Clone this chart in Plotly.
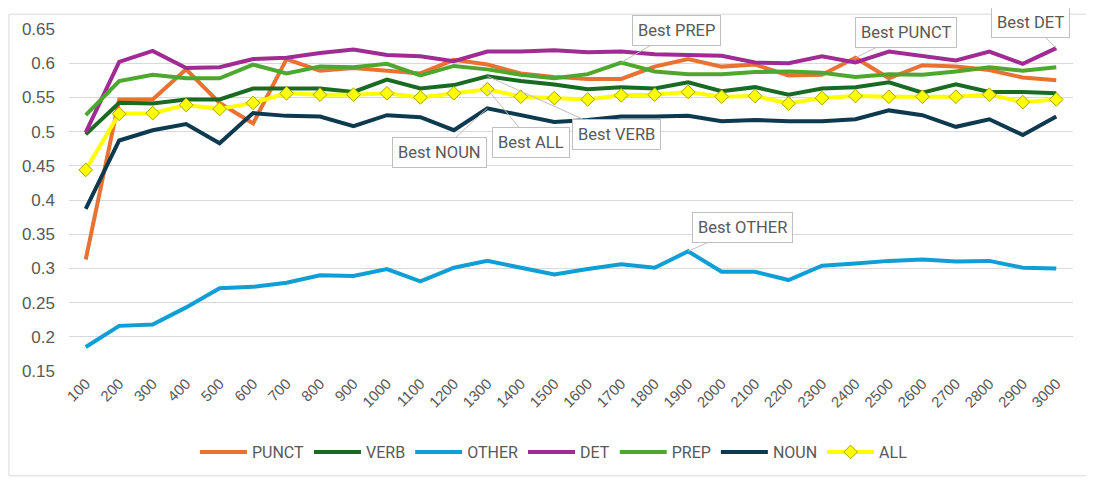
import plotly.graph_objects as go

CATS = ["100", "200", "300", "400", "500", "600", "700", "800", "900", "1000",
        "1100", "1200", "1300", "1400", "1500", "1600", "1700", "1800", "1900", "2000",
        "2100", "2200", "2300", "2400", "2500", "2600", "2700", "2800", "2900", "3000"]

PUNCT = [0.313, 0.547, 0.547, 0.591, 0.542, 0.512, 0.606, 0.589, 0.593, 0.589,
         0.585, 0.605, 0.598, 0.585, 0.580, 0.577, 0.577, 0.595, 0.606, 0.595,
         0.598, 0.582, 0.583, 0.608, 0.578, 0.597, 0.595, 0.590, 0.579, 0.575]
VERB = [0.496, 0.542, 0.541, 0.547, 0.547, 0.563, 0.563, 0.563, 0.558, 0.576,
        0.563, 0.568, 0.581, 0.574, 0.569, 0.562, 0.565, 0.563, 0.572, 0.559,
        0.565, 0.554, 0.563, 0.565, 0.572, 0.557, 0.569, 0.558, 0.558, 0.556]
OTHER = [0.185, 0.216, 0.218, 0.243, 0.271, 0.273, 0.279, 0.290, 0.289, 0.299,
         0.281, 0.301, 0.311, 0.301, 0.291, 0.299, 0.306, 0.301, 0.325, 0.295,
         0.295, 0.283, 0.304, 0.307, 0.311, 0.313, 0.310, 0.311, 0.301, 0.300]
DET = [0.499, 0.602, 0.618, 0.593, 0.594, 0.606, 0.608, 0.615, 0.620, 0.612,
       0.610, 0.603, 0.617, 0.617, 0.619, 0.616, 0.617, 0.613, 0.612, 0.611,
       0.601, 0.600, 0.610, 0.601, 0.617, 0.611, 0.604, 0.617, 0.599, 0.622]
PREP = [0.524, 0.574, 0.583, 0.578, 0.578, 0.598, 0.585, 0.595, 0.594, 0.599,
        0.582, 0.596, 0.591, 0.583, 0.578, 0.584, 0.601, 0.588, 0.584, 0.584,
        0.587, 0.588, 0.586, 0.580, 0.584, 0.583, 0.588, 0.594, 0.589, 0.594]
NOUN = [0.387, 0.487, 0.502, 0.511, 0.483, 0.527, 0.523, 0.522, 0.508, 0.524,
        0.521, 0.502, 0.534, 0.524, 0.514, 0.517, 0.522, 0.522, 0.523, 0.515,
        0.517, 0.515, 0.515, 0.518, 0.531, 0.524, 0.507, 0.518, 0.495, 0.522]
ALL = [0.444, 0.526, 0.527, 0.539, 0.533, 0.542, 0.556, 0.554, 0.554, 0.556,
       0.550, 0.556, 0.562, 0.551, 0.549, 0.547, 0.553, 0.554, 0.558, 0.551,
       0.552, 0.541, 0.549, 0.552, 0.551, 0.551, 0.551, 0.554, 0.543, 0.547]

SERIES = [("PUNCT", PUNCT, "#E97132"), ("VERB", VERB, "#196B24"),
          ("OTHER", OTHER, "#0F9ED5"), ("DET", DET, "#A02B93"),
          ("PREP", PREP, "#4EA72E"), ("NOUN", NOUN, "#0E3A4F"),
          ("ALL", ALL, "#FFFF00")]

# callout label offsets (pixels) from the best point
CALLOUT_OFFSETS = {"PREP": (55, -32), "PUNCT": (51, -25), "DET": (-26, -26),
                   "NOUN": (-48, 44), "ALL": (44, 53), "VERB": (129, 58),
                   "OTHER": (54, -24)}

fig = go.Figure()
for name, vals, col in SERIES:
    if name == "ALL":
        fig.add_trace(go.Scatter(
            x=CATS, y=vals, name=name, mode="lines+markers",
            line=dict(color=col, width=4),
            marker=dict(symbol="diamond", size=10.5, color=col,
                        line=dict(color="#A5A500", width=1))))
    else:
        fig.add_trace(go.Scatter(
            x=CATS, y=vals, name=name, mode="lines",
            line=dict(color=col, width=4)))

annotations = []
for name, vals, col in SERIES:
    idx = max(range(len(vals)), key=lambda i: vals[i])
    ax, ay = CALLOUT_OFFSETS[name]
    annotations.append(dict(
        x=idx, y=vals[idx], xref="x", yref="y",
        text="Best " + name, showarrow=True, arrowhead=0, arrowwidth=1,
        arrowcolor="#BFBFBF", ax=ax, ay=ay,
        font=dict(family="Roboto", size=16.5, color="#595959"),
        bgcolor="white", bordercolor="#BFBFBF", borderwidth=1, borderpad=5))

fig.update_layout(
    width=1086, height=475,
    margin=dict(l=61, r=21, t=16, b=112),
    paper_bgcolor="white", plot_bgcolor="white",
    showlegend=True,
    legend=dict(orientation="h", x=0.483, xanchor="center", y=-0.237,
                yanchor="middle", font=dict(family="Roboto", size=16, color="#595959"),
                itemwidth=47, traceorder="normal"),
    annotations=annotations,
    shapes=[dict(type="rect", xref="paper", yref="paper",
                 x0=-0.0598, x1=1.016, y0=-0.3066, y1=1.0433,
                 line=dict(color="#D9D9D9", width=1), fillcolor="rgba(0,0,0,0)",
                 layer="below")],
)
fig.update_xaxes(type="category", range=[-0.5, 29.5], showgrid=False,
                 showline=False, zeroline=False, tickangle=-45, ticks="",
                 tickfont=dict(family="Liberation Sans", size=15, color="#595959"))
fig.update_yaxes(range=[0.15, 0.65], dtick=0.05, tickformat="~g",
                 showgrid=True, gridcolor="#D9D9D9", gridwidth=1,
                 showline=False, zeroline=False, ticks="",
                 ticklabelstandoff=13,
                 tickfont=dict(family="Liberation Sans", size=17, color="#595959"))

fig.write_html("out.html")
